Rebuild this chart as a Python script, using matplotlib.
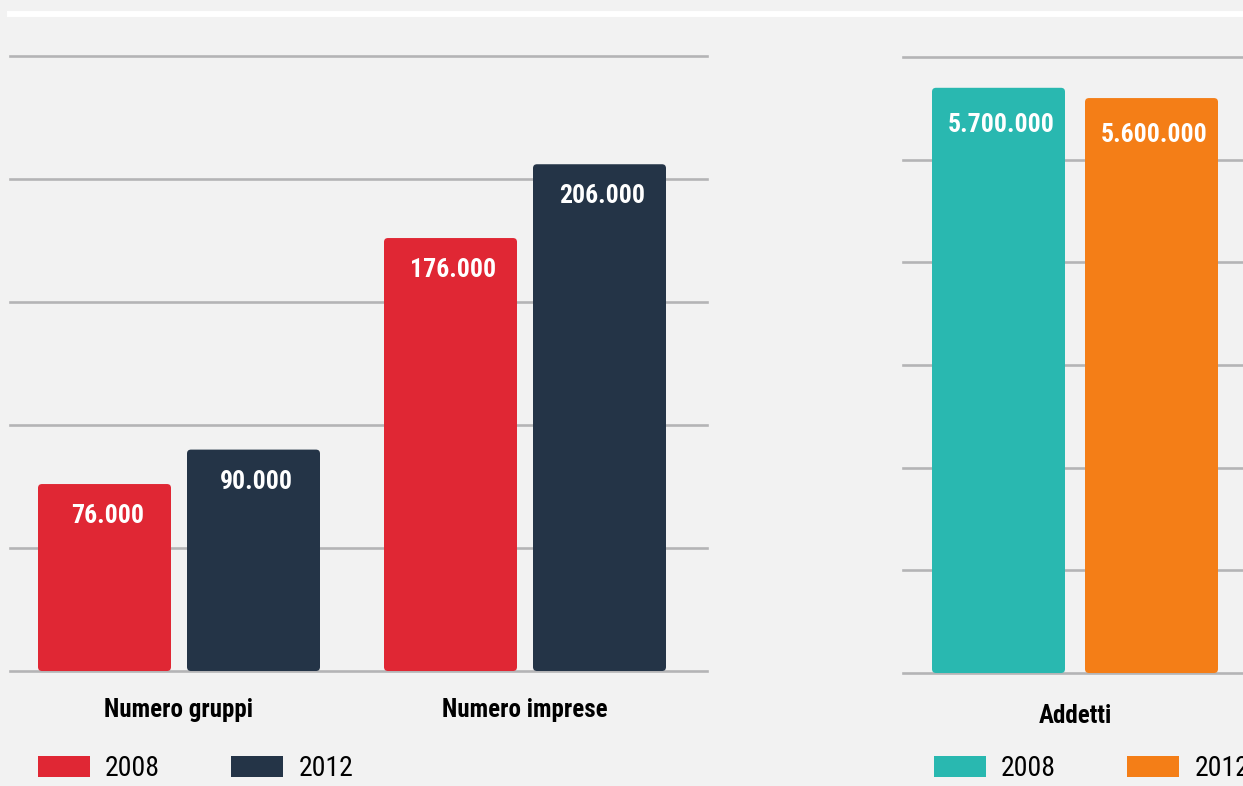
import matplotlib.pyplot as plt
import numpy as np
from matplotlib.patches import FancyBboxPatch, Patch
from matplotlib.lines import Line2D

plt.rcParams['font.family'] = ['Roboto Condensed', 'Liberation Sans', 'DejaVu Sans']

# data
groups_left = ["Numero gruppi", "Numero imprese"]
left_2008 = [76000, 176000]
left_2012 = [90000, 206000]
groups_right = ["Addetti"]
right_2008 = [5700000]
right_2012 = [5600000]
years = ["2008", "2012"]

BG = "#f2f2f2"
GRID = "#b4b4b6"
RED, NAVY = "#e02734", "#243447"
TEAL, ORANGE = "#29b8b0", "#f47e17"

W, H = 1243, 786
fig = plt.figure(figsize=(W / 100, H / 100), dpi=100, facecolor=BG)

# white stripe at the top
fig.add_artist(Line2D([10 / W, 1], [1 - 13.5 / H] * 2, color="white", lw=4.3, transform=fig.transFigure))


def fmt(v):
    return "{:,}".format(v).replace(",", ".")


def round_bars(ax, bars, px_x, px_y):
    # swap plain rectangles for rounded ones (4 px corners)
    for b in bars:
        x, y, w, h = b.get_x(), b.get_y(), b.get_width(), b.get_height()
        p = FancyBboxPatch((x, y), w, h, boxstyle="round,pad=0,rounding_size=%f" % (4 * px_x),
                           mutation_aspect=px_y / px_x, fc=b.get_facecolor(), ec="none", zorder=3)
        ax.add_patch(p)
        b.remove()


def panel(rect, groups, v1, v2, c1, c2, ymax, step, xlim, offs, label_pad, lab_dy):
    ax = fig.add_axes(rect)
    ax.set_facecolor(BG)
    x = np.arange(len(groups))
    width = 133 / 346
    b1 = ax.bar(x - offs, v1, width, color=c1, zorder=3)
    b2 = ax.bar(x + offs, v2, width, color=c2, zorder=3)
    ax.set_xlim(*xlim)
    ax.set_ylim(0, ymax)
    ax.set_yticks(np.arange(0, ymax + 1, step))
    ax.grid(axis="y", color=GRID, lw=1.9, zorder=0)
    for gl in ax.get_ygridlines():
        gl.set_clip_on(False)
    ax.tick_params(left=False, bottom=False, labelleft=False, pad=label_pad)
    ax.set_xticks(x, groups, fontsize=18, fontweight="bold", color="black")
    for s in ax.spines.values():
        s.set_visible(False)
    ax.set_axisbelow(True)
    px_x = (xlim[1] - xlim[0]) / (rect[2] * W)
    px_y = ymax / (rect[3] * H)
    round_bars(ax, list(b1) + list(b2), px_x, px_y)
    for xs, vals in ((x - offs, v1), (x + offs, v2)):
        for xi, v in zip(xs, vals):
            ax.annotate(fmt(v), (xi, v), xytext=(3, -lab_dy), textcoords="offset pixels",
                        ha="center", va="center", color="white", fontsize=18.5, fontweight="bold", zorder=5)
    return ax


axl = panel([10 / W, (H - 671) / H, 697 / W, 615 / H], groups_left, left_2008, left_2012, RED, NAVY,
            250000, 50000, (-169 / 346, 528 / 346), 149 / 2 / 346, 16, 32)
axr = panel([903 / W, (H - 673) / H, 340 / W, 616 / H], groups_right, right_2008, right_2012, TEAL, ORANGE,
            6000000, 1000000, (-172 / 346, 168 / 346), 153 / 2 / 346, 19, 37)

for ax, cols, x0 in ((axl, (RED, NAVY), 38), (axr, (TEAL, ORANGE), 934)):
    handles = [Patch(fc=c, ec="none") for c in cols]
    fig.legend(handles, years, loc="center left", bbox_to_anchor=(x0 / W, 1 - 769 / H), ncol=2,
               frameon=False, fontsize=20, handlelength=1.87, handleheight=0.8, handletextpad=0.55,
               columnspacing=2.55, borderpad=0, borderaxespad=0)

plt.savefig("out.png", dpi=100, facecolor=BG)
